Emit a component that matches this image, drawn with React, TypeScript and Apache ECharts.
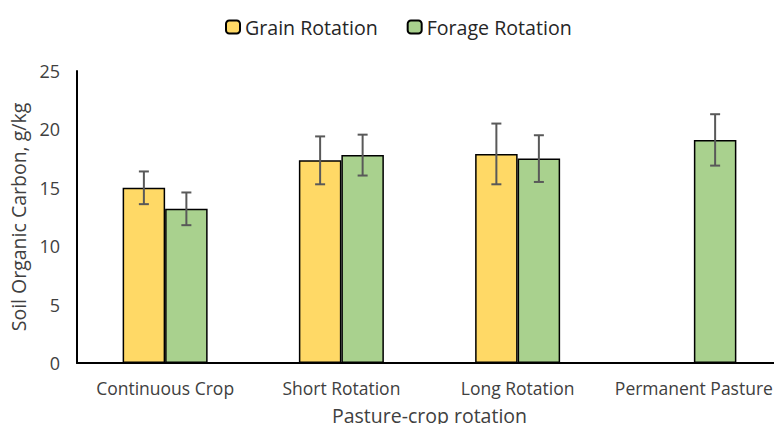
import React, { useEffect, useRef } from "react";
import * as echarts from "echarts";

const categories = ["Continuous Crop", "Short Rotation", "Long Rotation", "Permanent Pasture"];
const grainValues: (number | null)[] = [15.0, 17.35, 17.9, null];
const grainErrors: (number | null)[] = [1.4, 2.05, 2.6, null];
const forageValues: number[] = [13.2, 17.8, 17.5, 19.1];
const forageErrors: number[] = [1.4, 1.75, 2.0, 2.2];
const yTicks = { min: 0, max: 25, interval: 5 };

const FONT = "Open Sans";
const BAR_W = 42.5;

function errorSeries(values: (number | null)[], errors: (number | null)[], side: number) {
  const data = values.map((v, i) =>
    v == null || errors[i] == null ? [i, null, null] : [i, (v as number) - (errors[i] as number), (v as number) + (errors[i] as number)]
  );
  return {
    type: "custom",
    silent: true,
    z: 10,
    data,
    renderItem: (params: any, api: any) => {
      const lo = api.value(1);
      const hi = api.value(2);
      if (lo == null || hi == null || isNaN(lo)) return null;
      const c1 = api.coord([api.value(0), lo]);
      const c2 = api.coord([api.value(0), hi]);
      const x = c1[0] + side * BAR_W / 2;
      const cap = 5;
      const style = { stroke: "#595959", lineWidth: 2 };
      return {
        type: "group",
        children: [
          { type: "line", shape: { x1: x, y1: c1[1], x2: x, y2: c2[1] }, style },
          { type: "line", shape: { x1: x - cap, y1: c1[1], x2: x + cap, y2: c1[1] }, style },
          { type: "line", shape: { x1: x - cap, y1: c2[1], x2: x + cap, y2: c2[1] }, style },
        ],
      };
    },
  };
}

export default function App() {
  const ref = useRef<HTMLDivElement>(null);
  useEffect(() => {
    if (!ref.current) return;
    const chart = echarts.init(ref.current, null, { renderer: "svg" });
    chart.setOption({
      animation: false,
      backgroundColor: "#ffffff",
      legend: {
        top: 12,
        left: 220,
        itemWidth: 14,
        itemHeight: 13,
        itemGap: 29,
        textStyle: { fontFamily: FONT, fontSize: 19.6, color: "#262626" },
        data: ["Grain Rotation", "Forage Rotation"],
      },
      grid: { left: 77, top: 71, bottom: 69, right: -9 },
      xAxis: {
        type: "category",
        data: categories,
        axisLine: { lineStyle: { color: "#000000", width: 2 } },
        axisTick: { show: false },
        axisLabel: { fontFamily: FONT, fontSize: 17.5, color: "#404040", margin: 16, interval: 0 },
        name: "Pasture-crop rotation",
        nameLocation: "middle",
        nameGap: 42,
        nameTextStyle: { fontFamily: FONT, fontSize: 19.5, color: "#404040" },
      },
      yAxis: {
        type: "value",
        min: yTicks.min,
        max: yTicks.max,
        interval: yTicks.interval,
        splitLine: { show: false },
        axisLine: { show: true, lineStyle: { color: "#000000", width: 2 } },
        axisTick: { show: false },
        axisLabel: { fontFamily: FONT, fontSize: 18, color: "#404040", margin: 17 },
        name: "Soil Organic Carbon, g/kg",
        nameLocation: "middle",
        nameGap: 47,
        nameTextStyle: { fontFamily: FONT, fontSize: 19.5, color: "#404040" },
      },
      series: [
        {
          name: "Grain Rotation",
          type: "bar",
          data: grainValues,
          barWidth: BAR_W,
          barGap: "0%",
          itemStyle: { color: "#FFD966", borderColor: "#000000", borderWidth: 1.5 },
        },
        {
          name: "Forage Rotation",
          type: "bar",
          data: forageValues,
          barWidth: BAR_W,
          barGap: "0%",
          itemStyle: { color: "#A9D18E", borderColor: "#000000", borderWidth: 1.5 },
        },
        errorSeries(grainValues, grainErrors, -1),
        errorSeries(forageValues, forageErrors, 1),
      ],
    });
    return () => chart.dispose();
  }, []);
  return <div ref={ref} style={{ width: 782, height: 432, margin: -8 }} />;
}
